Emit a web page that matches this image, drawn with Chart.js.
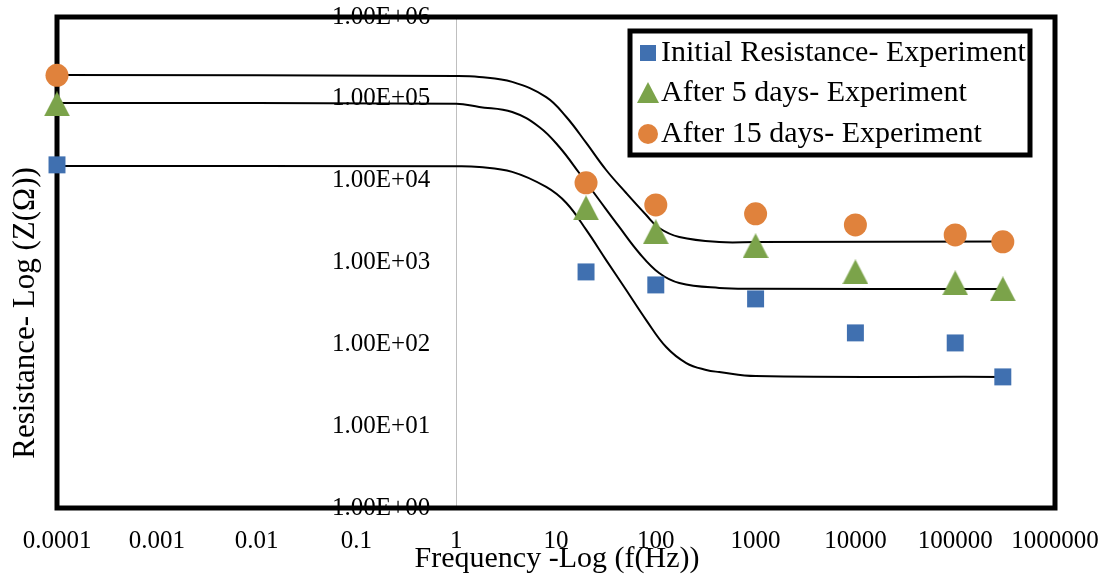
<!DOCTYPE html>
<html><head><meta charset="utf-8">
<script src="https://cdn.jsdelivr.net/npm/chart.js@4.4.1/dist/chart.umd.min.js"></script>
<style>html,body{margin:0;padding:0;background:#fff;}#wrap{width:1104px;height:575px;position:relative;}</style>
</head><body><div id="wrap"><canvas id="c" width="1104" height="575"></canvas></div>
<script>
// ---- Data ----
const frequencies = [0.0001, 20, 100, 1000, 10000, 100000, 300000];
const initialResistance = [15600, 767, 532, 359, 138, 104, 40];
const after5Days = [86900, 4650, 2370, 1600, 767, 563, 476];
const after15Days = [194000, 9400, 5060, 3930, 2880, 2170, 1790];

// fitted curves
const fitInitialFreq = [0.0001, 1, 1.7, 3.64, 7.98, 12.7, 20.1, 31.8, 50.5, 80.1, 127, 202, 320, 432, 1000, 300000];
const fitInitialR = [15100, 15000, 14700, 12800, 8370, 5330, 2500, 1070, 461, 198, 92.7, 59.1, 48.6, 45.9, 41, 40];
const fit5Freq = [0.0001, 1, 1.7, 3.64, 6.79, 10.8, 17.1, 27.1, 43.0, 68.2, 108, 172, 432, 1000, 300000];
const fit5R = [89000, 87000, 79500, 69000, 45300, 25800, 12400, 5800, 2720, 1307, 744, 562, 489, 478, 476];
const fit15Freq = [0.0001, 1, 1.7, 3.64, 7.98, 12.7, 20.1, 31.8, 50.5, 80.1, 108, 172, 432, 1000, 300000];
const fit15R = [196000, 190000, 185000, 161000, 105000, 60000, 28900, 13500, 7070, 3810, 2640, 2050, 1780, 1780, 1800];

const seriesLabels = ['Initial Resistance- Experiment', 'After 5 days- Experiment', 'After 15 days- Experiment'];

const xTickValues = [0.0001, 0.001, 0.01, 0.1, 1, 10, 100, 1000, 10000, 100000, 1000000];
const xTickLabels = ['0.0001', '0.001', '0.01', '0.1', '1', '10', '100', '1000', '10000', '100000', '1000000'];
const yTickValues = [1, 10, 100, 1000, 10000, 100000, 1000000];
const yTickLabels = ['1.00E+00', '1.00E+01', '1.00E+02', '1.00E+03', '1.00E+04', '1.00E+05', '1.00E+06'];

const xTitle = 'Frequency -Log (f(Hz))';
const yTitle = 'Resistance- Log (Z(Ω))';

// ---- helpers ----
const pts = (xs, ys) => xs.map((x, i) => ({x: x, y: ys[i]}));
const BLUE = '#4070B0', GREEN = '#7BA34A', ORANGE = '#E0823C';
const FONT = "'Liberation Serif', 'Times New Roman', serif";
const Y_LABEL_GAP = 26, X_LABEL_GAP = 18;

function makeTriangle(color, w, h) {
  const c = document.createElement('canvas');
  c.width = w; c.height = h;
  const g = c.getContext('2d');
  g.fillStyle = color;
  g.beginPath(); g.moveTo(w / 2, 0); g.lineTo(w, h); g.lineTo(0, h); g.closePath(); g.fill();
  return c;
}
const triangleImg = makeTriangle(GREEN, 26, 25);

const markerDs = (label, data, color, style, radius) => ({
  type: 'scatter', label: label, data: data, showLine: false,
  pointStyle: style, pointRadius: radius, pointHoverRadius: radius,
  pointBackgroundColor: color, pointBorderColor: color, pointBorderWidth: 0,
  backgroundColor: color, borderColor: color, order: 0, clip: false, isMarker: true
});
const lineDs = (data) => ({
  type: 'line', label: 'fit', data: data, showLine: true, pointRadius: 0,
  borderColor: '#000', borderWidth: 2, fill: false, tension: 0.4,
  order: 1, clip: false, isMarker: false
});

// shift tick labels away from their axis (Excel-like placement)
const labelShiftPlugin = {
  id: 'labelShift',
  beforeDraw(chart) {
    const ys = chart.scales.y, xs = chart.scales.x;
    ys.getLabelItems(chart.chartArea).forEach(it => {
      if (!it._shifted) { it.options.translation[0] -= Y_LABEL_GAP; it._shifted = true; }
    });
    xs.getLabelItems(chart.chartArea).forEach(it => {
      if (!it._shifted) { it.options.translation[1] += X_LABEL_GAP; it._shifted = true; }
    });
  }
};

const framePlugin = {
  id: 'frame',
  beforeDatasetsDraw(chart) {
    const {ctx, chartArea: a} = chart;
    ctx.save();
    ctx.strokeStyle = '#000'; ctx.lineWidth = 5;
    ctx.strokeRect(a.left, a.top, a.right - a.left, a.bottom - a.top);
    ctx.restore();
  }
};

const titlesPlugin = {
  id: 'titles',
  afterDraw(chart) {
    const {ctx, chartArea: a} = chart;
    ctx.save();
    ctx.fillStyle = '#000';
    ctx.font = '30px ' + FONT;
    ctx.textAlign = 'center'; ctx.textBaseline = 'alphabetic';
    ctx.fillText(xTitle, (a.left + a.right) / 2 + 1, 567);
    ctx.font = '31px ' + FONT;
    ctx.translate(34, 313);
    ctx.rotate(-Math.PI / 2);
    ctx.fillText(yTitle, 0, 0);
    ctx.restore();
  }
};

const legendPlugin = {
  id: 'boxLegend',
  afterDraw(chart) {
    const {ctx} = chart;
    const L = 630, T = 31, R = 1030, B = 155;
    ctx.save();
    ctx.fillStyle = '#fff';
    ctx.fillRect(L, T, R - L, B - T);
    ctx.strokeStyle = '#000'; ctx.lineWidth = 5;
    ctx.strokeRect(L, T, R - L, B - T);
    const rows = [53, 93, 134];
    const markers = chart.data.datasets.filter(d => d.isMarker);
    markers.forEach((d, i) => {
      const y = rows[i], x = 648;
      ctx.fillStyle = d.pointBackgroundColor;
      if (d.pointStyle === 'rect') {
        ctx.fillRect(x - 8, y - 8, 16, 16);
      } else if (d.pointStyle === 'circle') {
        ctx.beginPath(); ctx.arc(x, y, 10, 0, Math.PI * 2); ctx.fill();
      } else {
        ctx.beginPath(); ctx.moveTo(x, y - 11); ctx.lineTo(x + 11, y + 10); ctx.lineTo(x - 11, y + 10); ctx.closePath(); ctx.fill();
      }
      ctx.fillStyle = '#000';
      ctx.font = '30px ' + FONT;
      ctx.textAlign = 'left'; ctx.textBaseline = 'middle';
      ctx.fillText(d.label, 661, y);
    });
    ctx.restore();
  }
};

new Chart(document.getElementById('c'), {
  type: 'scatter',
  data: {
    datasets: [
      markerDs(seriesLabels[0], pts(frequencies, initialResistance), BLUE, 'rect', 12),
      markerDs(seriesLabels[1], pts(frequencies, after5Days), GREEN, triangleImg, 13),
      markerDs(seriesLabels[2], pts(frequencies, after15Days), ORANGE, 'circle', 11.5),
      lineDs(pts(fitInitialFreq, fitInitialR)),
      lineDs(pts(fit5Freq, fit5R)),
      lineDs(pts(fit15Freq, fit15R))
    ]
  },
  options: {
    responsive: false, animation: false,
    layout: {padding: {left: 57, right: 49, top: 17, bottom: 0}},
    plugins: {legend: {display: false}, tooltip: {enabled: false}},
    scales: {
      x: {
        type: 'logarithmic', position: 'bottom', min: 0.0001, max: 1000000,
        afterBuildTicks: s => { s.ticks = xTickValues.map(v => ({value: v})); },
        afterFit: s => { s.height = 67; },
        grid: {display: false, drawTicks: false},
        border: {display: false},
        ticks: {
          autoSkip: false, maxRotation: 0, minRotation: 0, padding: 0, color: '#000',
          font: {family: FONT, size: 25},
          callback: v => xTickLabels[xTickValues.indexOf(v)]
        }
      },
      y: {
        type: 'logarithmic', position: {x: 1}, min: 1, max: 1000000,
        afterBuildTicks: s => { s.ticks = yTickValues.map(v => ({value: v})); },
        grid: {display: false, drawTicks: false},
        border: {display: true, color: '#BFBFBF', width: 1},
        ticks: {
          padding: 0, color: '#000', font: {family: FONT, size: 25},
          callback: v => yTickLabels[yTickValues.indexOf(v)]
        }
      }
    }
  },
  plugins: [labelShiftPlugin, framePlugin, titlesPlugin, legendPlugin]
});
</script></body></html>
